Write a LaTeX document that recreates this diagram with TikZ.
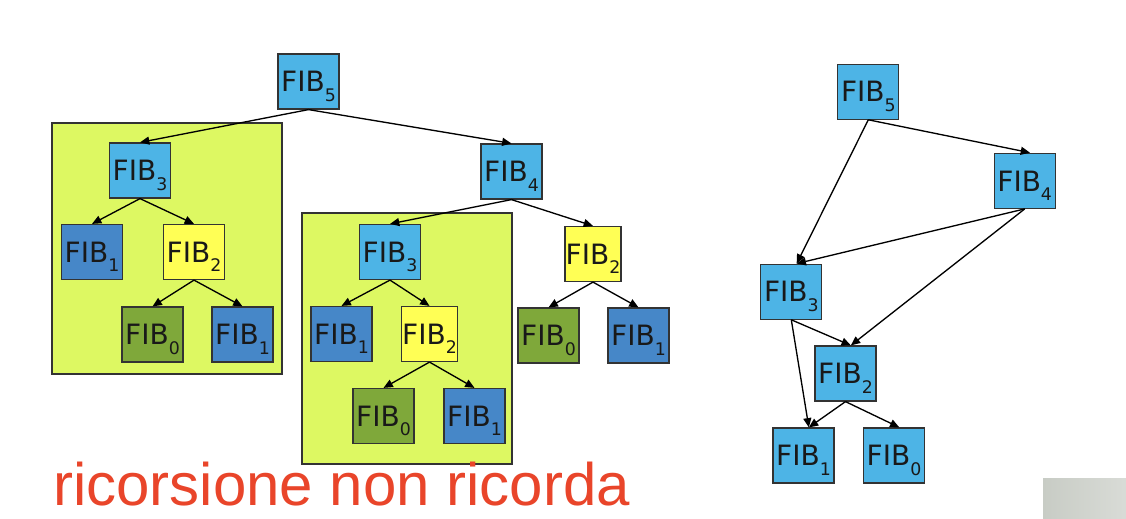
\documentclass[tikz,border=0pt]{standalone}
\usepackage{fontspec}
\usepackage{tikz}
\usetikzlibrary{arrows.meta}
\newfontfamily\boxfont{DejaVu Sans}
\newfontfamily\notefont{Liberation Sans}
\definecolor{fibblue}{RGB}{77,180,230}
\definecolor{fibdark}{RGB}{70,135,200}
\definecolor{fibyellow}{RGB}{255,255,85}
\definecolor{fibgreen}{RGB}{127,168,58}
\definecolor{fiblime}{RGB}{221,248,98}
\definecolor{fibred}{RGB}{233,69,42}
\definecolor{fibgrey}{RGB}{200,204,197}
\newcommand{\fibn}[1]{FIB\smash{\raisebox{-7pt}{\fontsize{13}{13}\selectfont#1}}}

\begin{document}
\begin{tikzpicture}[x=0.75pt,y=-0.75pt,
fb/.style={draw=black!80,line width=0.9pt,fill=#1,minimum width=45.75pt,minimum height=41.25pt,inner sep=0pt,font=\boxfont\fontsize{21}{22}\selectfont,text=black!90},
grp/.style={draw=black!80,line width=0.9pt,fill=fiblime},
call/.style={-{Triangle[length=7pt,width=6pt]},line width=1pt}]
\useasboundingbox (0,0) rectangle (1126,518);
% sottoalberi ripetuti
\draw[grp] (52,123) rectangle (282,374);
\draw[grp] (302,213) rectangle (512,464);
% albero delle chiamate
\node[fb=fibblue] (a5) at (308.5,81.5) {\fibn{5}};
\node[fb=fibblue] (a3) at (140,170.5) {\fibn{3}};
\node[fb=fibdark] (a1) at (92,252) {\fibn{1}};
\node[fb=fibyellow] (a2) at (194,252) {\fibn{2}};
\node[fb=fibgreen] (a0) at (152.5,334.5) {\fibn{0}};
\node[fb=fibdark] (a1b) at (242.5,334.5) {\fibn{1}};
\node[fb=fibblue] (a4) at (511.5,171.5) {\fibn{4}};
\node[fb=fibblue] (b3) at (390,252) {\fibn{3}};
\node[fb=fibdark] (b1) at (341.5,334) {\fibn{1}};
\node[fb=fibyellow,minimum width=41.5pt] (b2) at (429.5,334) {\fibn{2}};
\node[fb=fibgreen] (b0) at (383.5,416) {\fibn{0}};
\node[fb=fibdark] (b1b) at (474.5,416) {\fibn{1}};
\node[fb=fibyellow,minimum width=42pt] (c2) at (593,254) {\fibn{2}};
\node[fb=fibgreen] (c0) at (548.5,335.5) {\fibn{0}};
\node[fb=fibdark] (c1) at (638.5,335.5) {\fibn{1}};
\foreach \a/\b in %
{a5/a3,a5/a4,a3/a1,a3/a2,a2/a0,a2/a1b,a4/b3,a4/c2,b3/b1,b3/b2,b2/b0,b2/b1b,c2/c0,c2/c1} {
   \draw[call] (\a.south) -- (\b.north);
}
% grafo con memoria
\node[fb=fibblue] (d5) at (868.3,91.7) {\fibn{5}};
\node[fb=fibblue] (d4) at (1024.7,180.8) {\fibn{4}};
\node[fb=fibblue] (d3) at (791.3,291.7) {\fibn{3}};
\node[fb=fibblue] (d2) at (845.5,373.5) {\fibn{2}};
\node[fb=fibblue] (d1) at (803.5,455.5) {\fibn{1}};
\node[fb=fibblue] (d0) at (894,455.5) {\fibn{0}};
\foreach \a/\b in %
{d5/d3,d5/d4,d4/d3,d4/d2,d3/d2,d3/d1,d2/d1,d2/d0} {
   \draw[call] (\a.south) -- ([xshift=4pt]\b.north);
}
\node[anchor=base west,inner sep=0pt,text=fibred,font=\notefont\fontsize{45}{45}\selectfont] (nota) at (53,505) {ricorsione non ricorda};
\shade[left color=fibgrey,right color=fibgrey!70!white] (1043,478) rectangle (1126,518);
\end{tikzpicture}
\end{document}
